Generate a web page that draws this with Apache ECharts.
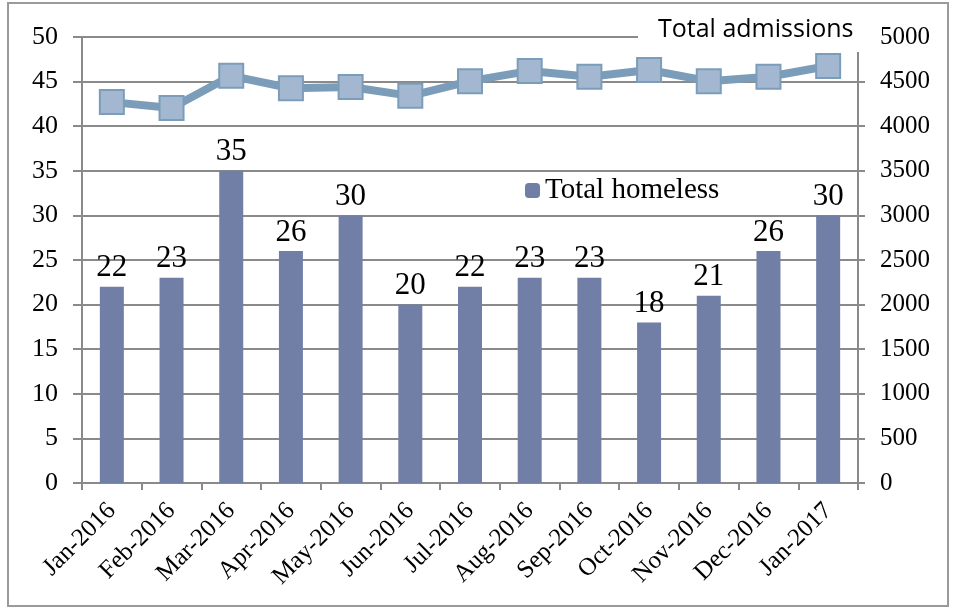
<!DOCTYPE html>
<html>
<head>
<meta charset="utf-8">
<script src="https://cdn.jsdelivr.net/npm/echarts@6/dist/echarts.min.js"></script>
<style>
  html, body { margin: 0; padding: 0; background: #fff; }
  #boot { width: 955px; height: 614px; }
</style>
</head>
<body>
<div id="boot"></div>
<script>
var months = ['Jan-2016', 'Feb-2016', 'Mar-2016', 'Apr-2016', 'May-2016', 'Jun-2016', 'Jul-2016',
              'Aug-2016', 'Sep-2016', 'Oct-2016', 'Nov-2016', 'Dec-2016', 'Jan-2017'];
var homeless = [22, 23, 35, 26, 30, 20, 22, 23, 23, 18, 21, 26, 30];
var admissions = [4270, 4205, 4565, 4425, 4440, 4340, 4505, 4620, 4555, 4630, 4505, 4555, 4675];

var myChart = echarts.init(document.getElementById('boot'));

var serif = '"Liberation Serif", "Times New Roman", serif';
var gridGray = '#8a8a8a';

var option = {
    backgroundColor: '#fff',
    animation: false,
    graphic: [{
        type: 'rect',
        shape: { x: 8, y: 3, width: 940, height: 603 },
        style: { fill: 'none', stroke: '#9a9a9a', lineWidth: 2 }
    }],
    grid: { left: 82, right: 97, top: 37, bottom: 131 },
    legend: [{
        data: [{ name: 'Total admissions', icon: 'none' }],
        left: 638, top: 12,
        backgroundColor: '#fff',
        padding: [5, 12, 10, 15],
        itemWidth: 0, itemHeight: 0, itemGap: 0,
        z: 10,
        textStyle: { fontFamily: '"Open Sans", "DejaVu Sans", sans-serif', fontSize: 25, color: '#000' }
    }, {
        data: ['Total homeless'],
        left: 525, top: 176,
        padding: 0,
        itemWidth: 15, itemHeight: 15, itemGap: 10,
        textStyle: { fontFamily: serif, fontSize: 29, color: '#000' }
    }],
    xAxis: {
        type: 'category',
        data: months,
        axisLine: { lineStyle: { color: gridGray, width: 2 } },
        axisTick: { show: true, length: 7, lineStyle: { color: gridGray, width: 2 } },
        axisLabel: {
            rotate: 45, fontFamily: serif, fontSize: 25, color: '#000', margin: 24
        }
    },
    yAxis: [{
        type: 'value',
        min: 0, max: 50, interval: 5,
        axisLine: { show: true, lineStyle: { color: gridGray, width: 2 } },
        axisTick: { show: true, length: 9, lineStyle: { color: gridGray, width: 2 } },
        splitLine: { lineStyle: { color: gridGray, width: 2 } },
        axisLabel: { fontFamily: serif, fontSize: 26, color: '#000', margin: 24 }
    }, {
        type: 'value',
        min: 0, max: 5000, interval: 500,
        position: 'right',
        axisLine: { show: true, lineStyle: { color: gridGray, width: 2 } },
        axisTick: { show: true, length: 8, inside: true, lineStyle: { color: gridGray, width: 2 } },
        splitLine: { show: false },
        axisLabel: {
            fontFamily: serif, fontSize: 25, color: '#000', margin: 22,
            formatter: function (v) { return String(v); }
        }
    }, {
        // outer half of the crossing ticks on the right axis
        type: 'value',
        min: 0, max: 5000, interval: 500,
        position: 'right',
        axisLine: { show: false },
        axisTick: { show: true, length: 7, lineStyle: { color: gridGray, width: 2 } },
        splitLine: { show: false },
        axisLabel: { show: false }
    }],
    series: [{
        name: 'Total homeless',
        type: 'bar',
        data: homeless,
        barWidth: 24,
        itemStyle: { color: '#717ea6' },
        label: {
            show: true, position: 'top', distance: 3,
            fontFamily: serif, fontSize: 31, color: '#000'
        },
        z: 2
    }, {
        name: 'Total admissions',
        type: 'line',
        yAxisIndex: 1,
        data: admissions,
        symbol: 'rect',
        symbolSize: 24,
        lineStyle: { color: '#7c9dba', width: 8 },
        itemStyle: { color: '#a3b8d0', borderColor: '#7c9dba', borderWidth: 2 },
        z: 3
    }]
};

myChart.setOption(option);
</script>
</body>
</html>
